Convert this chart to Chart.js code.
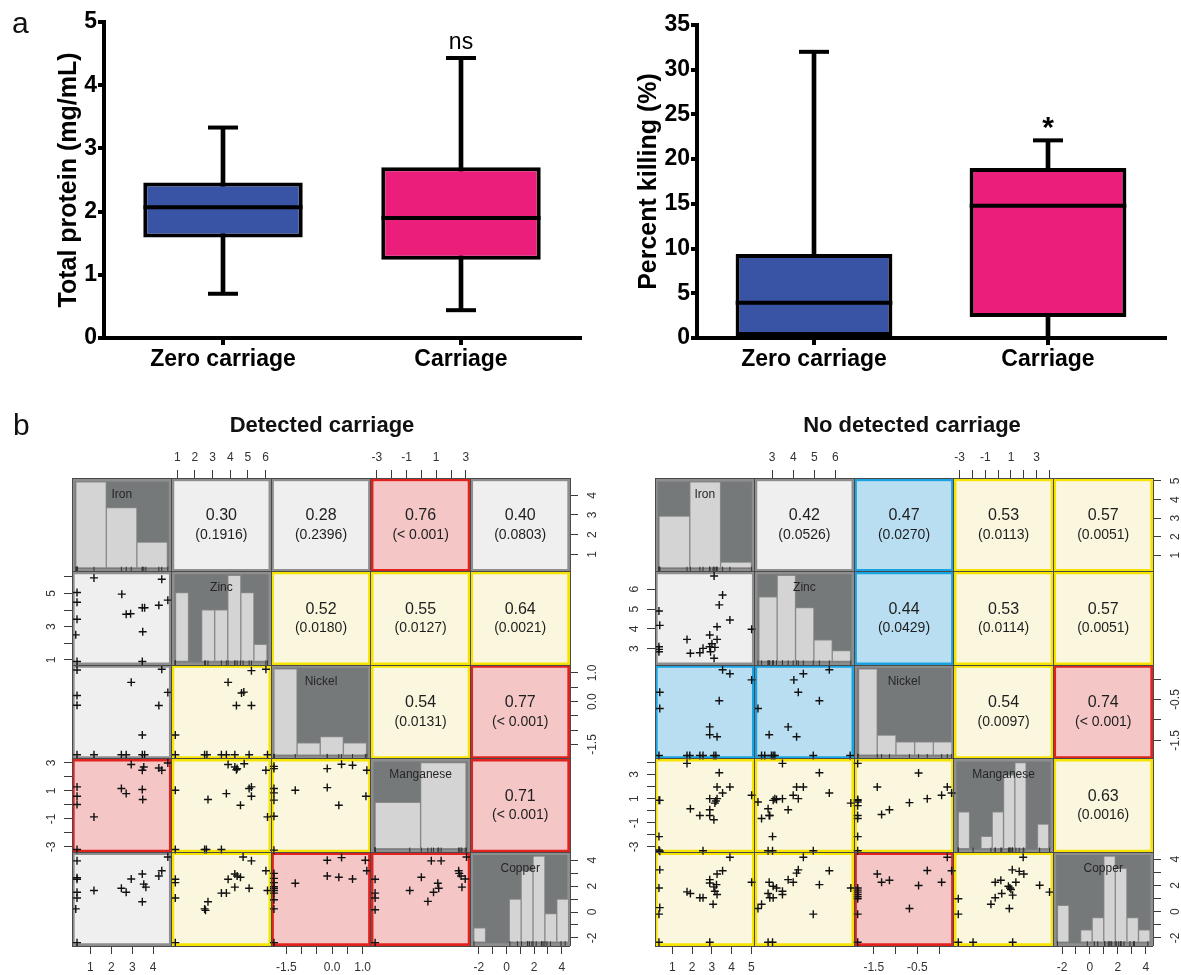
<!DOCTYPE html>
<html><head><meta charset="utf-8">
<script src="https://cdn.jsdelivr.net/npm/chart.js@4/dist/chart.umd.min.js"></script>
<style>
html,body{margin:0;padding:0;background:#fff;}
#wrap{position:relative;width:1181px;height:975px;overflow:hidden;font-family:"Liberation Sans",Arial,sans-serif;}
.box{position:absolute;}
.lbl{position:absolute;font-family:"Liberation Sans",Arial,sans-serif;color:#111;white-space:nowrap;}
</style></head><body>
<div id="wrap">
  <div class="box" style="left:0;top:0;width:590px;height:390px"><canvas id="cProt"></canvas></div>
  <div class="box" style="left:590px;top:0;width:591px;height:390px"><canvas id="cKill"></canvas></div>
  <div class="box" style="left:0;top:440px;width:605px;height:535px"><canvas id="cDet"></canvas></div>
  <div class="box" style="left:600px;top:440px;width:581px;height:535px"><canvas id="cNo"></canvas></div>
  <div class="lbl" style="left:12px;top:8px;font-size:30px;line-height:30px;">a</div>
  <div class="lbl" style="left:13px;top:410px;font-size:30px;line-height:30px;">b</div>
  <div class="lbl" style="left:172px;width:300px;top:412px;font-size:22px;line-height:26px;font-weight:bold;text-align:center;">Detected carriage</div>
  <div class="lbl" style="left:762px;width:300px;top:412px;font-size:22px;line-height:26px;font-weight:bold;text-align:center;">No detected carriage</div>
</div>
<script>
const F = '"Liberation Sans", Arial, Helvetica, sans-serif';
Chart.defaults.font.family = F;
Chart.defaults.animation = false;
Chart.defaults.plugins.legend.display = false;
Chart.defaults.plugins.tooltip.enabled = false;
Chart.defaults.events = [];

/* ---------- panel a data ---------- */
const categories = ['Zero carriage', 'Carriage'];
const boxColors = ['#3a54a5', '#ec1e7b'];
const proteinMin = [0.70, 0.44];
const proteinQ1  = [1.59, 1.24];
const proteinMed = [2.07, 1.90];
const proteinQ3  = [2.46, 2.70];
const proteinMax = [3.33, 4.43];
const proteinSig = ['', 'ns'];
const killMin = [0, 0];
const killQ1  = [0, 2.35];
const killMed = [3.95, 14.8];
const killQ3  = [9.4, 19.0];
const killMax = [32.0, 22.1];
const killSig = ['', '*'];

/* ---------- panel b data ---------- */
const varNames = ['Iron', 'Zinc', 'Nickel', 'Manganese', 'Copper'];
const upperPairs = [[0,1],[0,2],[0,3],[0,4],[1,2],[1,3],[1,4],[2,3],[2,4],[3,4]];
const detR = ['0.30','0.28','0.76','0.40','0.52','0.55','0.64','0.54','0.77','0.71'];
const detP = ['(0.1916)','(0.2396)','(< 0.001)','(0.0803)','(0.0180)','(0.0127)','(0.0021)','(0.0131)','(< 0.001)','(< 0.001)'];
const detClass = ['ns','ns','high','ns','mid','mid','mid','mid','high','high'];
const noR = ['0.42','0.47','0.53','0.57','0.44','0.53','0.57','0.54','0.74','0.63'];
const noP = ['(0.0526)','(0.0270)','(0.0113)','(0.0051)','(0.0429)','(0.0114)','(0.0051)','(0.0097)','(< 0.001)','(0.0016)'];
const noClass = ['ns','low','mid','mid','low','mid','mid','mid','high','mid'];

const detRanges = [[0.12,4.88],[0.68,6.32],[-2.0,1.27],[-3.4,3.3],[-2.62,4.6]];
const noRanges  = [[0.12,5.16],[2.17,6.89],[-1.95,0.34],[-3.45,4.3],[-2.62,4.52]];

// histograms (bin edges, counts)
const detHistEdges = [
  [0.3,1.76,3.22,4.68],
  [0.9,1.64,2.38,3.12,3.86,4.6,5.34,6.08],
  [-1.91,-1.15,-0.39,0.37,1.13],
  [-3.11,-0.05,3.01],
  [-2.38,-1.52,-0.66,0.2,1.06,1.92,2.78,3.64,4.5]];
const detHistCounts = [[10,7,3],[4,0,3,3,5,4,1],[14,2,3,2],[7,13],[1,0,0,3,5,6,2,3]];
const noHistEdges = [
  [0.32,1.88,3.44,5.0],
  [2.37,3.24,4.11,4.98,5.85,6.72],
  [-1.85,-1.42,-0.99,-0.56,-0.13,0.3],
  [-3.1,-2.22,-1.34,-0.46,0.42,1.3,2.18,3.06,3.94],
  [-2.33,-1.5,-0.67,0.16,0.99,1.82,2.65,3.48,4.31]];
const noHistCounts = [[9,15,1],[6,8,5,2,1],[13,3,2,2,2],[3,0,1,3,6,7,0,2],[3,0,1,2,7,6,2,1]];

// scatter cells: name det_ROW_COL = [[x (col var), y (row var)], ...]
const det_1_0 = [[1.17,5.94],[4.41,5.86],[0.36,5.06],[2.5,4.96],[0.36,4.47],[4.7,4.6],[3.59,4.14],[3.48,4.14],[4.27,4.29],[2.71,3.75],[2.92,3.78],[0.36,3.45],[0.3,2.51],[3.5,2.7],[0.36,0.9],[3.48,0.9]];
const det_2_0 = [[0.36,1.10],[4.41,1.13],[2.95,0.67],[4.7,0.32],[0.36,0.21],[0.36,-0.13],[4.27,-0.14],[3.48,-1.17],[0.36,-1.86],[1.17,-1.86],[2.48,-1.86],[2.71,-1.86],[3.48,-1.86],[3.59,-1.86]];
const det_3_0 = [[0.36,-3.19],[2.95,2.89],[3.55,2.71],[3.48,2.48],[4.7,3.0],[4.27,2.64],[4.41,2.48],[0.36,1.29],[2.48,1.17],[2.71,0.81],[3.48,1.1],[0.36,0.62],[3.5,0.39],[0.36,0.03],[1.17,-0.86]];
const det_4_0 = [[0.36,3.95],[4.7,4.25],[4.41,3.18],[4.27,2.78],[0.36,2.65],[0.36,2.53],[2.95,2.55],[3.48,2.93],[3.55,2.15],[3.65,1.92],[2.48,1.84],[2.71,1.53],[1.17,1.66],[0.36,1.53],[0.36,1.08],[3.48,0.79],[0.3,0.24],[0.36,-2.36]];
const det_2_1 = [[5.2,1.08],[6.02,1.13],[3.88,0.67],[4.64,0.3],[4.77,0.33],[4.35,-0.14],[5.2,-0.14],[0.89,-1.17],[0.89,-1.86],[2.55,-1.86],[2.68,-1.86],[3.5,-1.86],[3.78,-1.86],[4.26,-1.86],[5.07,-1.86],[6.11,-1.86]];
const det_3_1 = [[0.89,1.05],[2.55,-3.19],[2.65,-3.19],[3.5,-3.19],[0.89,-3.19],[3.88,2.89],[4.26,2.71],[4.35,2.52],[4.39,2.6],[4.79,2.95],[6.02,2.48],[2.74,0.39],[3.78,0.81],[4.58,-0.02],[5.07,1.17],[5.2,1.29],[5.2,0.62],[6.11,-0.86]];
const det_4_1 = [[0.89,2.53],[0.89,2.27],[0.89,1.08],[0.89,-2.36],[4.73,4.25],[5.2,3.95],[3.88,2.53],[4.26,2.93],[4.39,2.78],[4.58,2.68],[6.02,3.18],[4.26,1.92],[5.07,1.84],[3.5,1.46],[3.78,1.46],[2.74,0.79],[2.55,0.24],[2.6,0.13],[6.11,1.66]];
const det_3_2 = [[-1.91,2.76],[-1.91,2.6],[-0.16,2.6],[0.31,2.91],[0.67,2.84],[1.14,2.48],[-1.91,1.17],[-1.91,0.86],[-1.91,0.34],[-1.21,1.05],[-0.16,1.24],[1.11,0.62],[0.22,-0.02],[-1.91,-0.81],[-1.91,-3.24]];
const det_4_2 = [[-1.91,2.98],[-1.91,2.6],[-1.91,2.27],[-1.91,1.96],[-1.91,1.84],[-1.91,1.66],[-1.91,1.46],[-1.91,0.95],[-1.91,0.24],[-1.91,-2.36],[-1.21,2.22],[-0.16,4.0],[0.31,4.2],[1.09,4.0],[1.14,3.18],[-0.16,2.78],[0.22,2.68],[0.67,2.55]];
const det_4_3 = [[-3.11,2.53],[-3.11,1.46],[-3.11,1.08],[-3.11,0.18],[-3.11,-2.36],[-0.78,1.66],[0,2.68],[0.44,0.82],[0.82,1.53],[1.11,2.22],[1.17,1.84],[0.67,3.95],[1.33,3.95],[2.51,3.18],[2.55,2.98],[2.67,2.78],[2.95,2.55],[2.73,1.92],[3.04,4.25]];

const no_1_0 = [[3.11,6.67],[3.54,5.71],[3.37,5.21],[0.32,4.9],[3.91,4.45],[0.36,4.18],[3.26,4.11],[5.01,3.98],[2.89,3.69],[3.26,3.47],[1.74,3.47],[2.89,3.1],[0.32,3.1],[3.15,3.07],[0.32,2.97],[2.55,3.02],[2.39,2.8],[1.91,2.77],[2.93,2.85],[3.11,2.52],[0.32,2.85],[3.0,3.25]];
const no_2_0 = [[3.54,0.23],[3.91,0.13],[5.01,-0.02],[0.36,-0.32],[3.37,-0.53],[0.36,-0.72],[2.89,-1.17],[2.89,-1.36],[3.26,-1.41],[0.32,-1.87],[1.74,-1.87],[1.88,-1.87],[2.39,-1.87],[2.55,-1.87],[3.1,-1.87],[3.2,-1.87]];
const no_3_0 = [[1.74,3.92],[3.37,3.14],[3.26,1.97],[3.91,1.97],[3.54,1.47],[5.01,1.28],[2.89,1.0],[3.26,1.0],[3.2,0.8],[3.15,0.63],[0.32,0.86],[0.36,0.86],[1.91,0.17],[2.39,-0.39],[2.89,0.08],[2.89,-0.39],[3.1,-0.75],[0.32,-2.14],[0.32,-3.25],[0.36,-3.36],[2.55,-3.31]];
const no_4_0 = [[3.91,4.15],[0.36,3.19],[3.54,3.12],[3.26,2.87],[5.01,2.24],[0.32,1.81],[2.89,2.44],[2.89,2.19],[3.23,2.06],[3.1,1.89],[3.15,1.56],[1.74,1.51],[1.91,1.39],[2.39,1.06],[2.55,1.06],[3.26,1.31],[3.06,0.56],[0.36,0.31],[0.32,-0.19],[0.32,-2.33],[2.89,-2.33]];
const no_2_1 = [[4.48,0.13],[4.03,-0.02],[5.71,0.23],[4.24,-0.32],[5.24,-0.53],[2.33,-0.72],[3.76,-1.17],[2.86,-1.36],[4.16,-1.41],[2.5,-1.87],[2.65,-1.87],[2.97,-1.87],[3.05,-1.87],[3.13,-1.87],[4.95,-1.87],[6.7,-1.87]];
const no_3_1 = [[3.49,3.92],[5.24,3.14],[4.16,1.97],[4.48,1.97],[5.71,1.47],[4.0,1.28],[4.24,1.0],[3.49,1.0],[3.13,1.0],[3.05,0.86],[3.21,0.92],[2.33,0.72],[6.73,0.63],[2.81,0.17],[2.86,-0.39],[2.89,-0.39],[3.76,0.08],[2.5,-0.64],[3.02,-2.14],[2.81,-3.31],[3.02,-3.31],[4.95,-3.31]];
const no_4_1 = [[4.48,4.15],[4.24,3.19],[4.16,2.94],[5.71,3.12],[3.76,2.44],[4.0,2.24],[2.86,2.24],[3.05,1.94],[3.21,1.81],[3.49,1.56],[3.49,1.31],[5.24,2.06],[2.81,1.39],[2.89,1.06],[3.05,1.06],[6.73,1.81],[2.5,0.56],[2.33,0.24],[4.95,-0.19],[2.81,-2.33],[3.02,-2.33]];
const no_3_2 = [[-1.87,3.92],[-1.87,0.92],[-1.87,0.72],[-1.87,0.86],[-1.87,0.42],[-1.87,-0.39],[-1.87,-0.64],[-1.87,-2.14],[-1.87,-3.31],[-1.42,1.97],[-1.32,-0.31],[-1.14,0.08],[-0.47,3.13],[-0.68,0.67],[-0.27,1.0],[0.06,1.28],[0.19,1.97],[0.29,1.47]];
const no_4_2 = [[-1.87,1.81],[-1.87,1.64],[-1.87,1.49],[-1.87,1.31],[-1.87,1.14],[-1.87,0.99],[-1.87,-0.19],[-1.87,-2.33],[-1.42,2.87],[-1.32,2.24],[-1.14,2.39],[-0.68,0.24],[-0.47,1.99],[-0.27,3.14],[0.06,2.24],[0.19,4.15],[0.29,3.12]];
const no_4_3 = [[1.95,4.15],[1.1,3.19],[1.64,3.07],[2.0,2.87],[1.38,2.24],[-0.23,2.24],[0.21,2.39],[3.23,2.01],[4.0,1.49],[0.8,1.94],[0.92,1.81],[1.13,1.26],[1.0,1.69],[0.28,1.39],[-0.23,1.06],[-0.56,0.56],[0.87,0.24],[-3.1,0.99],[-3.1,-0.19],[-3.1,-2.33],[-1.95,-2.33],[1.13,-2.33]];

// axis ticks (variable index, tick values, tick labels)
const detTopIdx = [1,3];
const detTopVals = [[1,2,3,4,5,6],[-3,-2,-1,0,1,2,3]];
const detTopLabs = [['1','2','3','4','5','6'],['-3','','-1','','1','','3']];
const detBottomIdx = [0,2,4];
const detBottomVals = [[1,2,3,4],[-1.5,-1,-0.5,0,0.5,1],[-2,-1,0,1,2,3,4]];
const detBottomLabs = [['1','2','3','4'],['-1.5','','','0.0','','1.0'],['-2','','0','','2','','4']];
const detLeftIdx = [1,3];
const detLeftVals = [[1,2,3,4,5,6],[-3,-2,-1,0,1,2,3]];
const detLeftLabs = [['1','','3','','5',''],['-3','','-1','','1','','3']];
const detRightIdx = [0,2,4];
const detRightVals = [[1,2,3,4],[-1.5,-1,-0.5,0,0.5,1],[-2,-1,0,1,2,3,4]];
const detRightLabs = [['1','2','3','4'],['-1.5','','','0.0','','1.0'],['-2','','0','','2','','4']];

const noTopIdx = [1,3];
const noTopVals = [[3,4,5,6],[-3,-2,-1,0,1,2,3,4]];
const noTopLabs = [['3','4','5','6'],['-3','','-1','','1','','3','']];
const noBottomIdx = [0,2,4];
const noBottomVals = [[1,2,3,4,5],[-1.5,-1,-0.5,0],[-2,-1,0,1,2,3,4]];
const noBottomLabs = [['1','2','3','4','5'],['-1.5','','-0.5',''],['-2','','0','','2','','4']];
const noLeftIdx = [1,3];
const noLeftVals = [[3,4,5,6],[-3,-2,-1,0,1,2,3,4]];
const noLeftLabs = [['3','4','5','6'],['-3','','-1','','1','','3','']];
const noRightIdx = [0,2,4];
const noRightVals = [[1,2,3,4,5],[-1.5,-1,-0.5,0],[-2,-1,0,1,2,3,4]];
const noRightLabs = [['1','2','3','4','5'],['-1.5','','-0.5',''],['-2','','0','','2','','4']];

/* ---------- panel a: box plots ---------- */
const sigPlugin = {
  id: 'sig',
  afterDatasetsDraw(chart, args, o) {
    if (!o || !o.labels) return;
    const ctx = chart.ctx, xs = chart.scales.x, ys = chart.scales.y;
    ctx.save();
    ctx.fillStyle = '#000'; ctx.textAlign = 'center'; ctx.textBaseline = 'alphabetic';
    ctx.font = o.font;
    o.labels.forEach((t, i) => {
      if (!t) return;
      ctx.fillText(t, xs.getPixelForValue(i), ys.getPixelForValue(o.at[i]) + o.dy);
    });
    ctx.restore();
  }
};

function boxChart(id, mins, q1, med, q3, maxs, yMax, yStep, title, sig, sigFont, sigDy, L) {
  const W = 4;
  return new Chart(document.getElementById(id), {
    type: 'bar',
    data: {
      labels: categories,
      datasets: [
        {type:'line', data: med, showLine:false, pointStyle:'line', pointRadius:L.half, pointBorderWidth:W, pointBorderColor:'#000', borderColor:'#000', order:1},
        {type:'line', data: maxs, showLine:false, pointStyle:'line', pointRadius:15, pointBorderWidth:W, pointBorderColor:'#000', borderColor:'#000', order:1},
        {type:'line', data: mins, showLine:false, pointStyle:'line', pointRadius:15, pointBorderWidth:W, pointBorderColor:'#000', borderColor:'#000', order:1},
        {type:'bar', data: q1.map((v,i)=>[v, q3[i]]), backgroundColor: boxColors, borderColor:'#000', borderWidth:W, borderSkipped:false, grouped:false, barPercentage:0.67, categoryPercentage:1, order:2},
        {type:'bar', data: mins.map((v,i)=>[v, maxs[i]]), backgroundColor:'#000', borderWidth:0, barThickness:W, grouped:false, order:3}
      ]
    },
    options: {
      responsive: true, maintainAspectRatio: false,
      layout: {autoPadding:false, padding: {left:0, top:L.top, right:L.right, bottom:0}},
      scales: {
        x: {offset:true,
            ticks:{font:{size:23, weight:'bold', family:F}, color:'#000', padding:1},
            grid:{drawOnChartArea:false, offset:false, tickLength:7, lineWidth:W, color:'#000'},
            border:{width:W, color:'#000'},
            afterFit: s => { s.height = L.bottom; }},
        y: {min:0, max:yMax,
            ticks:{stepSize:yStep, font:{size:23, weight:'bold', family:F}, color:'#000', padding:1},
            grid:{drawOnChartArea:false, tickLength:6, lineWidth:W, color:'#000'},
            border:{width:W, color:'#000'},
            title:{display:true, text:title, color:'#000', font:{size:25, weight:'bold', family:F}, padding:{top:L.titlePad, bottom:0}},
            afterFit: s => { s.width = L.left; }}
      },
      plugins: {sig: {labels: sig, at: maxs, font: sigFont, dy: sigDy}}
    },
    plugins: [sigPlugin]
  });
}

boxChart('cProt', proteinMin, proteinQ1, proteinMed, proteinQ3, proteinMax, 5, 1, 'Total protein (mg/mL)',
  proteinSig, '23px ' + F, -9, {left:104, right:10, top:22, bottom:52, half:79.5, titlePad:54});
boxChart('cKill', killMin, killQ1, killMed, killQ3, killMax, 35, 5, 'Percent killing (%)',
  killSig, 'bold 30px ' + F, -3, {left:107, right:16, top:25, bottom:52, half:78.3, titlePad:44});

/* ---------- panel b: scatterplot matrices ---------- */
const classFill   = {ns:'#efefef', low:'#b9def2', mid:'#faf7de', high:'#f4c6c6', diag:'#76797a'};
const classBorder = {ns:'#8e8e8e', low:'#1aa3e0', mid:'#f6e400', high:'#e1221f', diag:'#8e8e8e'};

const matrixTextPlugin = {
  id: 'mtext',
  afterDatasetsDraw(chart, args, o) {
    if (!o || !o.rTxt) return;
    const ctx = chart.ctx, xs = chart.scales.x, ys = chart.scales.y;
    ctx.save();
    ctx.textAlign = 'center'; ctx.textBaseline = 'middle';
    upperPairs.forEach(([r, c], i) => {
      const cx = xs.getPixelForValue(c + 0.5), cy = ys.getPixelForValue(r + 0.5);
      ctx.fillStyle = '#1e1e1e';
      ctx.font = '16px ' + F; ctx.fillText(o.rTxt[i], cx, cy - 9);
      ctx.font = '14px ' + F; ctx.fillText(o.pTxt[i], cx, cy + 10);
    });
    ctx.fillStyle = '#262626'; ctx.font = '12px ' + F;
    varNames.forEach((nm, k) => ctx.fillText(nm, xs.getPixelForValue(k + 0.5), ys.getPixelForValue(k + 0.175)));
    ctx.restore();
  }
};

function buildMatrix(id, ranges, cells, hEdges, hCounts, rTxt, pTxt, cls, axes, S) {
  const pairIdx = (a, b) => upperPairs.findIndex(p => p[0] === a && p[1] === b);
  const toX = (v, k) => k + (v - ranges[k][0]) / (ranges[k][1] - ranges[k][0]);
  const toY = (v, k) => k + (ranges[k][1] - v) / (ranges[k][1] - ranges[k][0]);
  const cellData = [], cellFill = [], cellBorder = [];
  for (let r = 0; r < 5; r++) for (let c = 0; c < 5; c++) {
    const k = r === c ? 'diag' : cls[pairIdx(Math.min(r, c), Math.max(r, c))];
    cellData.push({x: c + 0.5, y: [r, r + 1]});
    cellFill.push(classFill[k]); cellBorder.push(classBorder[k]);
  }
  const datasets = [{type:'bar', data: cellData, backgroundColor: cellFill, borderColor: cellBorder,
    borderWidth: 3, borderSkipped: false, grouped: false, barPercentage: 1, categoryPercentage: 1, order: 10}];
  const gridOpt = {color:'#4a4a4a', lineWidth:1, drawTicks:false, offset:false, z:1};
  const scales = {
    x: {type:'linear', min:0, max:5, offset:false, position:'bottom', ticks:{display:false, stepSize:1}, grid:gridOpt, border:{display:false}},
    y: {type:'linear', min:0, max:5, offset:false, reverse:true, position:'left', ticks:{display:false, stepSize:1}, grid:gridOpt, border:{display:false}}
  };
  for (let k = 0; k < 5; k++) {
    const e = hEdges[k], n = hCounts[k], mx = Math.max(...n);
    const data = [];
    n.forEach((cnt, i) => {
      if (cnt > 0) data.push({x: toX((e[i] + e[i + 1]) / 2, k), y: [k + 0.96, k + 0.96 - cnt / mx * 0.92]});
    });
    datasets.push({type:'bar', xAxisID:'h' + k, data, backgroundColor:'#d4d4d4', borderColor:'#8a8a8a',
      borderWidth:1, borderSkipped:false, grouped:false, barPercentage:1, categoryPercentage:1, order:5});
    scales['h' + k] = {type:'linear', axis:'x', display:false, offset:false, grid:{offset:false}, min:0, max:5,
      afterBuildTicks: s => { s.ticks = [{value:0}, {value:5}]; }};
  }
  cells.forEach(({r, c, pts}) => {
    datasets.push({type:'scatter', data: pts.map(([a, b]) => ({x: toX(a, c), y: toY(b, r)})),
      pointStyle:'cross', pointRadius:4, pointBorderWidth:1.4, borderWidth:1.4,
      pointBorderColor:'#111', borderColor:'#111', order:1});
  });
  // rug ticks along the bottom of each diagonal panel (values taken from the scatter cells)
  for (let k = 0; k < 5; k++) {
    const src = k < 4 ? cells.find(o => o.r === 4 && o.c === k).pts.map(p => p[0])
                      : cells.find(o => o.r === 4 && o.c === 0).pts.map(p => p[1]);
    datasets.push({type:'scatter', data: src.map(v => ({x: toX(v, k), y: k + 0.975})),
      pointStyle:'line', rotation:90, pointRotation:90, pointRadius:2.5, pointBorderWidth:1, borderWidth:1,
      pointBorderColor:'#333', borderColor:'#333', order:4});
  }
  const mkAxis = (pos, idx, vals, labs, size, pad) => {
    const isH = (pos === 'top' || pos === 'bottom');
    const positions = [], labels = [];
    idx.forEach((k, j) => vals[j].forEach((v, m) => {
      positions.push(isH ? toX(v, k) : toY(v, k)); labels.push(labs[j][m]);
    }));
    return {type:'linear', axis: isH ? 'x' : 'y', position: pos, min:0, max:5, offset:false, reverse: !isH,
      afterBuildTicks: s => { s.ticks = positions.map(p => ({value: p})); },
      afterFit: s => { if (isH) s.height = size; else s.width = size; },
      ticks:{autoSkip:false, padding:pad, color:'#333', font:{size:12, family:F},
        callback:(v, i) => labels[i], minRotation: isH ? 0 : 90, maxRotation: isH ? 0 : 90, crossAlign:'center'},
      grid:{drawOnChartArea:false, drawTicks:true, offset:false, tickLength:8, color:'#3a3a3a', lineWidth:1},
      border:{display:false}};
  };
  scales.tA = mkAxis('top', axes.topIdx, axes.topVals, axes.topLabs, S.top, 12);
  scales.bA = mkAxis('bottom', axes.bottomIdx, axes.bottomVals, axes.bottomLabs, S.bottom, 14);
  scales.lA = mkAxis('left', axes.leftIdx, axes.leftVals, axes.leftLabs, S.left, 7);
  scales.rA = mkAxis('right', axes.rightIdx, axes.rightVals, axes.rightLabs, S.right, 4);
  return new Chart(document.getElementById(id), {
    type: 'scatter',
    data: {datasets},
    options: {responsive:true, maintainAspectRatio:false, layout:{autoPadding:false, padding:0}, scales,
      plugins: {mtext: {rTxt, pTxt}}},
    plugins: [matrixTextPlugin]
  });
}

buildMatrix('cDet', detRanges,
  [{r:1,c:0,pts:det_1_0},{r:2,c:0,pts:det_2_0},{r:3,c:0,pts:det_3_0},{r:4,c:0,pts:det_4_0},
   {r:2,c:1,pts:det_2_1},{r:3,c:1,pts:det_3_1},{r:4,c:1,pts:det_4_1},
   {r:3,c:2,pts:det_3_2},{r:4,c:2,pts:det_4_2},{r:4,c:3,pts:det_4_3}],
  detHistEdges, detHistCounts, detR, detP, detClass,
  {topIdx:detTopIdx, topVals:detTopVals, topLabs:detTopLabs, bottomIdx:detBottomIdx, bottomVals:detBottomVals, bottomLabs:detBottomLabs,
   leftIdx:detLeftIdx, leftVals:detLeftVals, leftLabs:detLeftLabs, rightIdx:detRightIdx, rightVals:detRightVals, rightLabs:detRightLabs},
  {left:72, right:35, top:38, bottom:29});

buildMatrix('cNo', noRanges,
  [{r:1,c:0,pts:no_1_0},{r:2,c:0,pts:no_2_0},{r:3,c:0,pts:no_3_0},{r:4,c:0,pts:no_4_0},
   {r:2,c:1,pts:no_2_1},{r:3,c:1,pts:no_3_1},{r:4,c:1,pts:no_4_1},
   {r:3,c:2,pts:no_3_2},{r:4,c:2,pts:no_4_2},{r:4,c:3,pts:no_4_3}],
  noHistEdges, noHistCounts, noR, noP, noClass,
  {topIdx:noTopIdx, topVals:noTopVals, topLabs:noTopLabs, bottomIdx:noBottomIdx, bottomVals:noBottomVals, bottomLabs:noBottomLabs,
   leftIdx:noLeftIdx, leftVals:noLeftVals, leftLabs:noLeftLabs, rightIdx:noRightIdx, rightVals:noRightVals, rightLabs:noRightLabs},
  {left:55, right:28, top:38, bottom:29});
</script>
</body></html>
